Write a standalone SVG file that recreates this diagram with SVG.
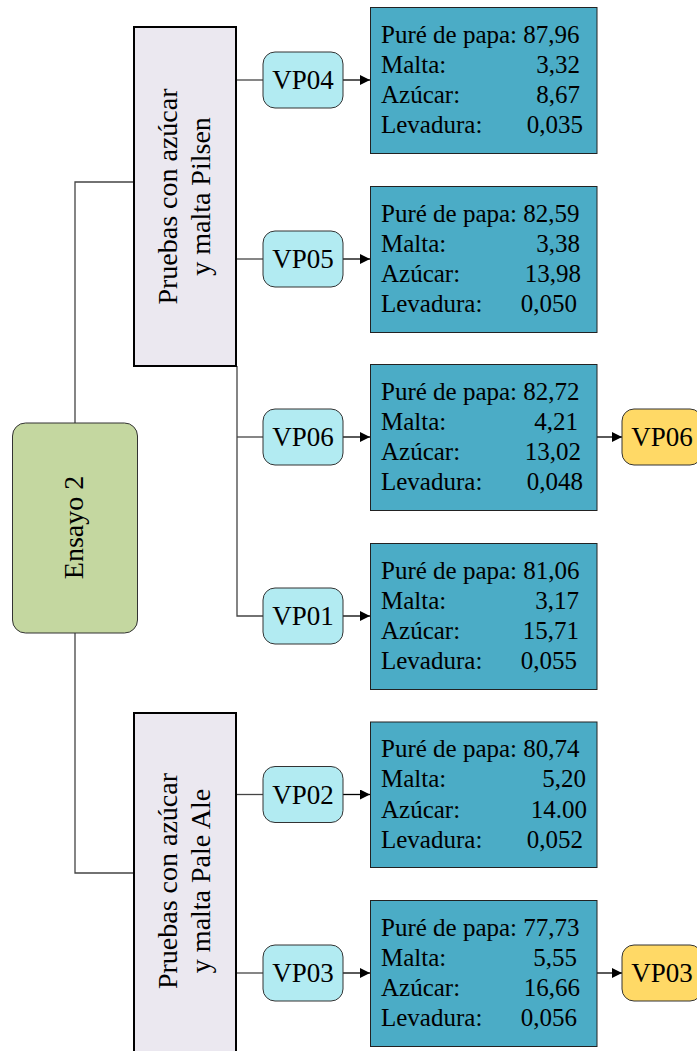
<svg xmlns="http://www.w3.org/2000/svg" width="697" height="1051" viewBox="0 0 697 1051" font-family="'Liberation Serif', 'DejaVu Serif', serif">
<defs>
<style>
text{font-family:'Liberation Serif','DejaVu Serif',serif;fill:#000}
.grp{fill:#ebe8f0;stroke:#000;stroke-width:2}
.root{fill:#c4d7a0;stroke:#333;stroke-width:1}
.vp{fill:#b2ebf2;stroke:#333;stroke-width:1}
.res{fill:#ffd966;stroke:#333;stroke-width:1}
.data{fill:#4bacc6;stroke:#222;stroke-width:1}
.big{font-size:28px}
.vpt{font-size:27px;text-anchor:middle}
.dt{font-size:25px}
.dv{font-size:25px;text-anchor:end}
.ln{fill:none;stroke:#444;stroke-width:1.3}
.ar{fill:none;stroke:#000;stroke-width:1.3;marker-end:url(#ah)}
</style>
<marker id="ah" viewBox="0 0 10 10" refX="10" refY="5" markerWidth="10" markerHeight="10" markerUnits="userSpaceOnUse" orient="auto">
<path d="M0,0 L10,5 L0,10 Z" fill="#000"/>
</marker>
</defs>
<rect width="697" height="1051" fill="#fff"/>

<g id="connectors">
<path class="ln" d="M75,423 V182 H133"/>
<path class="ln" d="M75,633 V873 H133"/>
<path class="ln" d="M236,80 H263"/>
<path class="ln" d="M236,259 H263"/>
<path class="ln" d="M237,366 V616 H263"/>
<path class="ln" d="M237,437 H263"/>
<path class="ln" d="M236,794.5 H263"/>
<path class="ln" d="M236,973 H263"/>
<path class="ar" d="M343,80 H370"/>
<path class="ar" d="M343,259 H370"/>
<path class="ar" d="M343,437 H370"/>
<path class="ar" d="M343,616 H370"/>
<path class="ar" d="M343,794.5 H370"/>
<path class="ar" d="M343,973 H370"/>
<path class="ar" d="M597,437 H622"/>
<path class="ar" d="M597,973 H622"/>
</g>

<g id="ensayo2">
<rect class="root" x="12.5" y="423" width="125" height="210" rx="13"/>
<text class="big" text-anchor="middle" transform="translate(82.5,527.5) rotate(-90)">Ensayo 2</text>
</g>

<g id="pilsen">
<rect class="grp" x="134" y="27" width="102" height="339"/>
<text class="big" text-anchor="middle" transform="translate(176.5,196.5) rotate(-90)">Pruebas con azúcar</text>
<text class="big" text-anchor="middle" transform="translate(210,196.5) rotate(-90)">y malta Pilsen</text>
</g>

<g id="paleale">
<rect class="grp" x="134" y="713" width="102" height="345"/>
<text class="big" text-anchor="middle" transform="translate(176.5,881) rotate(-90)">Pruebas con azúcar</text>
<text class="big" text-anchor="middle" transform="translate(210,881) rotate(-90)">y malta Pale Ale</text>
</g>

<g id="vp04"><rect class="vp" x="263" y="52" width="80" height="56" rx="12"/><text class="vpt" x="303" y="89">VP04</text></g>
<g id="vp05"><rect class="vp" x="263" y="231" width="80" height="56" rx="12"/><text class="vpt" x="303" y="268">VP05</text></g>
<g id="vp06"><rect class="vp" x="263" y="409" width="80" height="56" rx="12"/><text class="vpt" x="303" y="446">VP06</text></g>
<g id="vp01"><rect class="vp" x="263" y="588" width="80" height="56" rx="12"/><text class="vpt" x="303" y="625">VP01</text></g>
<g id="vp02"><rect class="vp" x="263" y="766.5" width="80" height="56" rx="12"/><text class="vpt" x="303" y="803.5">VP02</text></g>
<g id="vp03"><rect class="vp" x="263" y="945" width="80" height="56" rx="12"/><text class="vpt" x="303" y="982">VP03</text></g>

<g id="res-vp06"><rect class="res" x="622" y="409" width="80" height="56" rx="12"/><text class="vpt" x="662" y="446">VP06</text></g>
<g id="res-vp03"><rect class="res" x="622" y="945" width="80" height="56" rx="12"/><text class="vpt" x="662" y="982">VP03</text></g>

<g id="data-vp04">
<rect class="data" x="370.5" y="7.5" width="226.5" height="146"/>
<text class="dt" x="381" y="42.5">Puré de papa: 87,96</text>
<text class="dt" x="381" y="72.8">Malta:</text><text class="dv" x="580" y="72.8">3,32</text>
<text class="dt" x="381" y="103.1">Azúcar:</text><text class="dv" x="580" y="103.1">8,67</text>
<text class="dt" x="381" y="133.4">Levadura:</text><text class="dv" x="583" y="133.4">0,035</text>
</g>

<g id="data-vp05">
<rect class="data" x="370.5" y="186.5" width="226.5" height="146"/>
<text class="dt" x="381" y="221.5">Puré de papa: 82,59</text>
<text class="dt" x="381" y="251.8">Malta:</text><text class="dv" x="580" y="251.8">3,38</text>
<text class="dt" x="381" y="282.1">Azúcar:</text><text class="dv" x="581" y="282.1">13,98</text>
<text class="dt" x="381" y="312.4">Levadura:</text><text class="dv" x="577" y="312.4">0,050</text>
</g>

<g id="data-vp06">
<rect class="data" x="370.5" y="364.5" width="226.5" height="146"/>
<text class="dt" x="381" y="399.5">Puré de papa: 82,72</text>
<text class="dt" x="381" y="429.8">Malta:</text><text class="dv" x="578" y="429.8">4,21</text>
<text class="dt" x="381" y="460.1">Azúcar:</text><text class="dv" x="581" y="460.1">13,02</text>
<text class="dt" x="381" y="490.4">Levadura:</text><text class="dv" x="583" y="490.4">0,048</text>
</g>

<g id="data-vp01">
<rect class="data" x="370.5" y="543.5" width="226.5" height="146"/>
<text class="dt" x="381" y="578.5">Puré de papa: 81,06</text>
<text class="dt" x="381" y="608.8">Malta:</text><text class="dv" x="579" y="608.8">3,17</text>
<text class="dt" x="381" y="639.1">Azúcar:</text><text class="dv" x="579" y="639.1">15,71</text>
<text class="dt" x="381" y="669.4">Levadura:</text><text class="dv" x="577" y="669.4">0,055</text>
</g>

<g id="data-vp02">
<rect class="data" x="370.5" y="722" width="226.5" height="145.5"/>
<text class="dt" x="381" y="757">Puré de papa: 80,74</text>
<text class="dt" x="381" y="787.3">Malta:</text><text class="dv" x="586" y="787.3">5,20</text>
<text class="dt" x="381" y="817.6">Azúcar:</text><text class="dv" x="587" y="817.6">14.00</text>
<text class="dt" x="381" y="847.9">Levadura:</text><text class="dv" x="583" y="847.9">0,052</text>
</g>

<g id="data-vp03">
<rect class="data" x="370.5" y="900.5" width="226.5" height="146"/>
<text class="dt" x="381" y="935.5">Puré de papa: 77,73</text>
<text class="dt" x="381" y="965.8">Malta:</text><text class="dv" x="577" y="965.8">5,55</text>
<text class="dt" x="381" y="996.1">Azúcar:</text><text class="dv" x="580" y="996.1">16,66</text>
<text class="dt" x="381" y="1026.4">Levadura:</text><text class="dv" x="577" y="1026.4">0,056</text>
</g>
</svg>
